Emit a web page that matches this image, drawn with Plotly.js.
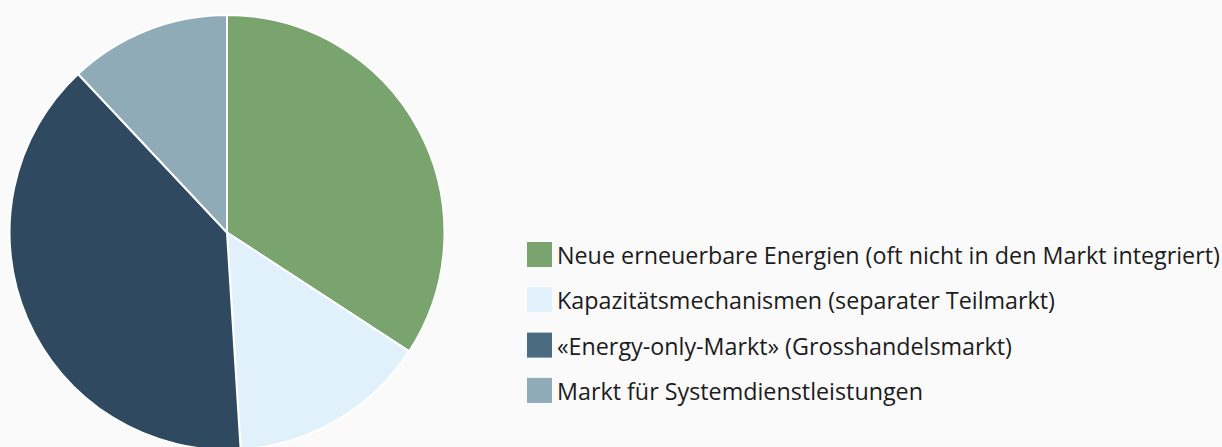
<!DOCTYPE html>
<html>
<head>
<meta charset="utf-8">
<script src="https://cdn.plot.ly/plotly-3.0.1.min.js"></script>
<style>
html,body{margin:0;padding:0;background:#fafafa;overflow:hidden;width:1222px;height:447px;}
#chart{width:1222px;height:450px;}
</style>
</head>
<body>
<div id="chart"></div>
<script>
var categories = [
  "Neue erneuerbare Energien (oft nicht in den Markt integriert)",
  "Kapazitätsmechanismen (separater Teilmarkt)",
  "«Energy-only-Markt» (Grosshandelsmarkt)",
  "Markt für Systemdienstleistungen"
];
var values = [34.2, 14.8, 39.0, 12.0];
var sliceColors = ["#79a46d", "#e0f1fc", "#2f4a60", "#8fabb7"];
var legendColors = ["#79a46d", "#e0f1fc", "#4a6b82", "#8fabb7"];

var W = 1222, H = 450, T = 15, B = 0;
function px2x(x){ return x / W; }
function px2y(y){ return 1 - (y - T) / (H - T - B); }

var shapes = [], annotations = [];
var rowTop = 242, rowStep = 45.3, sw = 25;
categories.forEach(function(c, i){
  var top = rowTop + i * rowStep;
  shapes.push({type:"rect", xref:"paper", yref:"paper",
    x0:px2x(527), x1:px2x(527+sw), y0:px2y(top+sw), y1:px2y(top),
    fillcolor:legendColors[i], line:{width:0}});
  annotations.push({xref:"paper", yref:"paper", x:px2x(555), y:px2y(top+sw/2+0.5),
    xanchor:"left", yanchor:"middle", showarrow:false, text:c,
    font:{family:"Open Sans, sans-serif", size:23.3, color:"#1c1c1c"}});
});

var data = [{
  type:"pie", values:values, labels:categories, sort:false, direction:"clockwise", rotation:0,
  marker:{colors:sliceColors, line:{color:"#ffffff", width:2}},
  textinfo:"none", hoverinfo:"label+value",
  domain:{x:[px2x(9.5), px2x(444.5)], y:[0,1]}
}];
var layout = {
  width:W, height:H, margin:{l:0, r:0, t:T, b:B},
  paper_bgcolor:"#fafafa", plot_bgcolor:"#fafafa",
  showlegend:false, shapes:shapes, annotations:annotations
};
Plotly.newPlot("chart", data, layout, {displayModeBar:false, staticPlot:true});
</script>
</body>
</html>
